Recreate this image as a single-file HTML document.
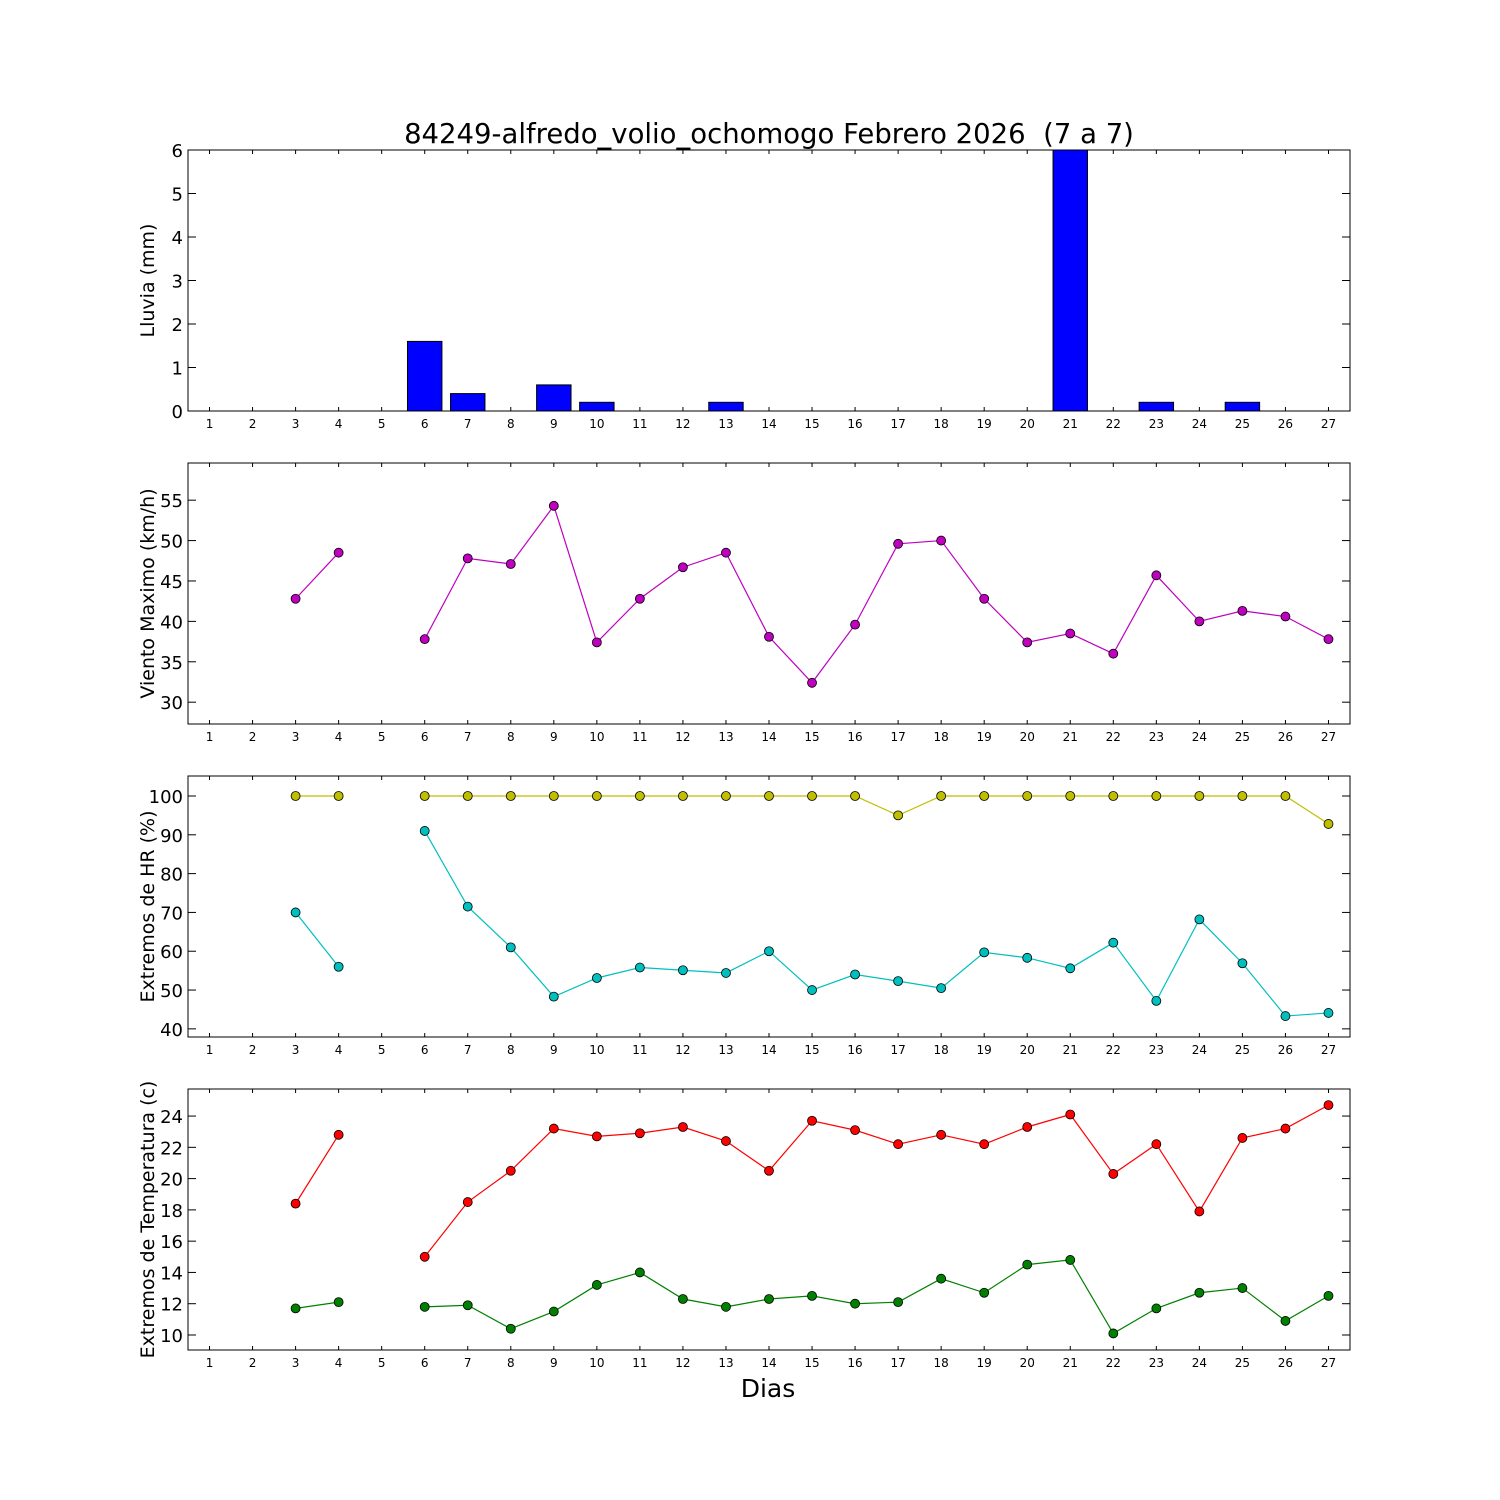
<!DOCTYPE html>
<html><head><meta charset="utf-8"><style>
body{margin:0;background:#fff;}
svg{display:block;font-family:"DejaVu Sans","Liberation Sans",sans-serif;}
</style></head><body>
<svg id="chart" width="1500" height="1500">
<rect width="1500" height="1500" fill="#fff"/>
<text x="769" y="143" font-size="27.5" text-anchor="middle">84249-alfredo_volio_ochomogo Febrero 2026&#160; (7 a 7)</text>
<text x="768" y="1397" font-size="25" text-anchor="middle">Dias</text>
</svg>
<script>
const days = [1,2,3,4,5,6,7,8,9,10,11,12,13,14,15,16,17,18,19,20,21,22,23,24,25,26,27];
const rain = [0,0,0,0,0,1.6,0.4,0,0.6,0.2,0,0,0.2,0,0,0,0,0,0,0,6,0,0.2,0,0.2,0,0];
const wind = [null,null,42.8,48.5,null,37.8,47.8,47.1,54.3,37.4,42.8,46.7,48.5,38.1,32.4,39.6,49.6,50.0,42.8,37.4,38.5,36.0,45.7,40.0,41.3,40.6,37.8];
const hrMax = [null,null,100,100,null,100,100,100,100,100,100,100,100,100,100,100,95,100,100,100,100,100,100,100,100,100,92.8];
const hrMin = [null,null,70,56,null,91,71.5,61,48.3,53.1,55.8,55.1,54.4,60,50,54,52.3,50.5,59.7,58.3,55.6,62.2,47.2,68.2,56.9,43.3,44.1];
const tMax = [null,null,18.4,22.8,null,15.0,18.5,20.5,23.2,22.7,22.9,23.3,22.4,20.5,23.7,23.1,22.2,22.8,22.2,23.3,24.1,20.3,22.2,17.9,22.6,23.2,24.7];
const tMin = [null,null,11.7,12.1,null,11.8,11.9,10.4,11.5,13.2,14.0,12.3,11.8,12.3,12.5,12.0,12.1,13.6,12.7,14.5,14.8,10.1,11.7,12.7,13.0,10.9,12.5];
const rainTicks = [0,1,2,3,4,5,6];
const windTicks = [30,35,40,45,50,55];
const hrTicks = [40,50,60,70,80,90,100];
const tTicks = [10,12,14,16,18,20,22,24];

const NS = "http://www.w3.org/2000/svg";
const svg = document.getElementById('chart');
const X0 = 188, X1 = 1350;
function xs(d){ return X0 + (d - 0.5) * (X1 - X0) / 27; }
function mk(tag, attrs, parent){
  const e = document.createElementNS(NS, tag);
  for (const k in attrs) e.setAttribute(k, attrs[k]);
  (parent || svg).appendChild(e);
  return e;
}
function panel(name, top, bottom, ymin, ymax, ticks, label){
  const g = mk('g', {});
  
  
  const ys = v => bottom - (v - ymin) / (ymax - ymin) * (bottom - top);
  days.forEach(d => {
    const x = xs(d);
    mk('line', {x1:x, x2:x, y1:bottom, y2:bottom-4, stroke:'#000'}, g);
    mk('line', {x1:x, x2:x, y1:top, y2:top+4, stroke:'#000'}, g);
    const t = mk('text', {x:x, y:bottom+17, 'font-size':12, 'text-anchor':'middle'}, g);
    t.textContent = d;
    
    
  });
  ticks.forEach(v => {
    const y = ys(v);
    mk('line', {x1:X0, x2:X0+8, y1:y, y2:y, stroke:'#000'}, g);
    mk('line', {x1:X1, x2:X1-8, y1:y, y2:y, stroke:'#000'}, g);
    const t = mk('text', {x:X0-5, y:y+7, 'font-size':18, 'text-anchor':'end'}, g);
    t.textContent = v;
    
    
  });
  const cy = (top + bottom) / 2;
  const l = mk('text', {x:0, y:0, 'font-size':19, 'text-anchor':'middle', transform:`translate(154,${cy}) rotate(-90)`}, g);
  l.textContent = label;
  
  
  return {g, ys, top, bottom};
}
function frame(p){
  mk('rect', {x:X0, y:p.top, width:X1-X0, height:p.bottom-p.top, fill:'none', stroke:'#000', 'stroke-width':1}, p.g);
}
function series(p, vals, color, name){
  const sg = mk('g', {}, p.g);
  
  
  let seg = [];
  const segs = [];
  vals.forEach((v, i) => {
    if (v === null) { if (seg.length) segs.push(seg); seg = []; }
    else seg.push([xs(days[i]), p.ys(v)]);
  });
  if (seg.length) segs.push(seg);
  segs.forEach(s => {
    const pl = mk('polyline', {points:s.map(q => q.join(',')).join(' '), fill:'none', stroke:color, 'stroke-width':1.2}, sg);
    
    
  });
  vals.forEach((v, i) => {
    if (v === null) return;
    const c = mk('circle', {cx:xs(days[i]), cy:p.ys(v), r:4.5, fill:color, stroke:'#000', 'stroke-width':0.8}, sg);
    
    
  });
}

const p1 = panel('rain', 150, 411, 0, 6, rainTicks, 'Lluvia (mm)');
const w = (X1 - X0) / 27 * 0.8;
rain.forEach((v, i) => {
  const y = p1.ys(Math.min(v, 6));
  const b = mk('rect', {x:xs(days[i]) - w/2, y:y, width:w, height:Math.max(p1.bottom - y, 0), fill:'#0000ff', stroke:'#000', 'stroke-width':1}, p1.g);
  
  
});
frame(p1);

const p2 = panel('wind', 463, 724, 27.3, 59.6, windTicks, 'Viento Maximo (km/h)');
series(p2, wind, '#bf00bf', 'wind-max');
frame(p2);

const p3 = panel('humidity', 776, 1037, 37.9, 105.15, hrTicks, 'Extremos de HR (%)');
series(p3, hrMax, '#bfbf00', 'hr-max');
series(p3, hrMin, '#00bfbf', 'hr-min');
frame(p3);

const p4 = panel('temperature', 1089, 1350, 9.04, 25.73, tTicks, 'Extremos de Temperatura (c)');
series(p4, tMax, '#ff0000', 'temp-max');
series(p4, tMin, '#008000', 'temp-min');
frame(p4);
</script>
</body></html>
